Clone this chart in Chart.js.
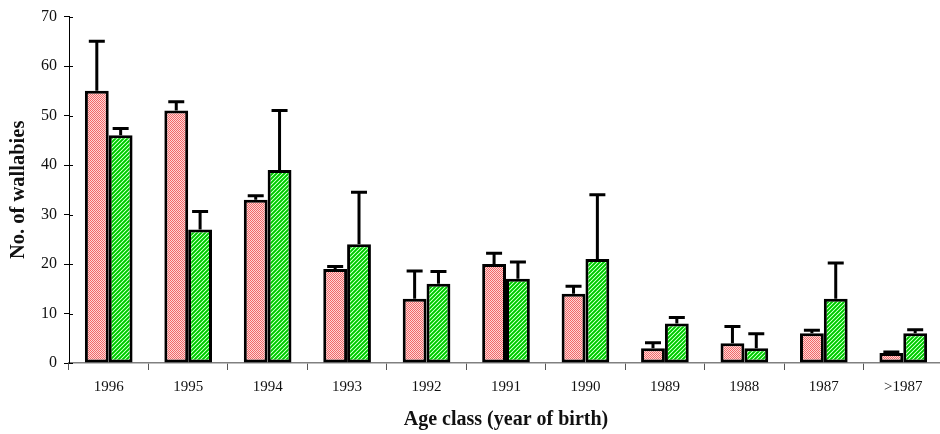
<!DOCTYPE html>
<html>
<head>
<meta charset="utf-8">
<script src="https://cdn.jsdelivr.net/npm/chart.js@4/dist/chart.umd.min.js"></script>
<style>
html,body{margin:0;padding:0;background:#fff;overflow:hidden;}
#wrap{width:940px;height:434px;overflow:hidden;}
</style>
</head>
<body>
<div id="wrap"><canvas id="c" width="943" height="434"></canvas></div>
<script>
const categories = ['1996','1995','1994','1993','1992','1991','1990','1989','1988','1987','>1987'];
const seriesA = [55, 51, 33, 19, 13, 20, 14, 3, 4, 6, 2];
const errorsA = [10, 1.8, 0.8, 0.5, 5.6, 2.2, 1.5, 1.1, 3.4, 0.6, 0.2];
const seriesB = [46, 27, 39, 24, 16, 17, 21, 8, 3, 13, 6];
const errorsB = [1.4, 3.6, 12, 10.5, 2.5, 3.4, 13, 1.2, 2.9, 7.2, 0.7];
const yTicks = [0, 10, 20, 30, 40, 50, 60, 70];

function makePattern(kind){
  const c = document.createElement('canvas');
  c.width = 4; c.height = 4;
  const g = c.getContext('2d');
  if (kind === 'red') {
    g.fillStyle = '#ffd6d6'; g.fillRect(0,0,4,4);
    g.fillStyle = '#f06a6a';
    for (let y=0;y<4;y++) for (let x=0;x<4;x++) if ((x+y)%2===0) g.fillRect(x,y,1,1);
  } else {
    g.fillStyle = '#22dd22'; g.fillRect(0,0,4,4);
    g.fillStyle = '#c8ffc8';
    for (let i=0;i<4;i++) g.fillRect(3-i,i,1,1);
    g.fillStyle = '#00c000';
    for (let i=0;i<4;i++) g.fillRect((5-i)%4,i,1,1);
  }
  return g.createPattern(c, 'repeat');
}

const serif = '"Liberation Serif", "Times New Roman", serif';

const errorBars = {
  id: 'errorBars',
  afterDatasetsDraw(chart){
    const ctx = chart.ctx;
    const ys = chart.scales.y;
    const errs = [errorsA, errorsB];
    ctx.save();
    ctx.strokeStyle = '#000';
    ctx.lineWidth = 3;
    chart.data.datasets.forEach((ds, i) => {
      const meta = chart.getDatasetMeta(i);
      meta.data.forEach((bar, j) => {
        const v = ds.data[j], e = errs[i][j];
        const yTop = ys.getPixelForValue(v);
        const yE = ys.getPixelForValue(v + e);
        ctx.beginPath();
        ctx.moveTo(bar.x, yTop);
        ctx.lineTo(bar.x, yE);
        ctx.moveTo(bar.x - 8, yE);
        ctx.lineTo(bar.x + 8, yE);
        ctx.stroke();
      });
    });
    ctx.lineWidth = 1;
    const left = chart.chartArea.left;
    yTicks.forEach(t => {
      const y = Math.round(ys.getPixelForValue(t)) + 0.5;
      ctx.beginPath();
      ctx.moveTo(left, y);
      ctx.lineTo(left + 4, y);
      ctx.stroke();
    });
    ctx.restore();
  }
};

new Chart(document.getElementById('c'), {
  type: 'bar',
  data: {
    labels: categories,
    datasets: [
      { data: seriesA, backgroundColor: makePattern('red'), borderColor: '#000', borderWidth: 3, borderSkipped: false,
        categoryPercentage: 0.6, barPercentage: 1.0 },
      { data: seriesB, backgroundColor: makePattern('green'), borderColor: '#000', borderWidth: 3, borderSkipped: false,
        categoryPercentage: 0.6, barPercentage: 1.0 }
    ]
  },
  options: {
    responsive: false,
    animation: false,
    layout: { padding: { top: 14, right: 0, left: 0, bottom: 0 } },
    plugins: { legend: { display: false }, tooltip: { enabled: false } },
    scales: {
      x: {
        grid: { display: true, drawOnChartArea: false, offset: true, tickLength: 7, color: '#555', lineWidth: 1 },
        border: { display: true, color: '#808080', width: 1.5 },
        ticks: { color: '#111', font: { family: serif, size: 15 }, padding: 8, maxRotation: 0, autoSkip: false },
        title: { display: true, text: 'Age class (year of birth)', color: '#111',
          font: { family: serif, size: 20, weight: 'bold' }, padding: { top: 0, bottom: 2 } },
        afterFit(s){ s.height = 71; }
      },
      y: {
        min: 0, max: 70,
        afterBuildTicks(s){ s.ticks = yTicks.map(v => ({ value: v })); },
        grid: { display: true, drawOnChartArea: false, tickLength: 5, color: '#000', lineWidth: 1 },
        border: { display: true, color: '#000', width: 1 },
        ticks: { color: '#111', font: { family: serif, size: 16 }, padding: 7 },
        title: { display: true, text: 'No. of wallabies', color: '#111',
          font: { family: serif, size: 20.5, weight: 'bold' }, padding: { top: 6, bottom: 0 } },
        afterFit(s){ s.width = 69; }
      }
    }
  },
  plugins: [errorBars]
});
</script>
</body>
</html>
